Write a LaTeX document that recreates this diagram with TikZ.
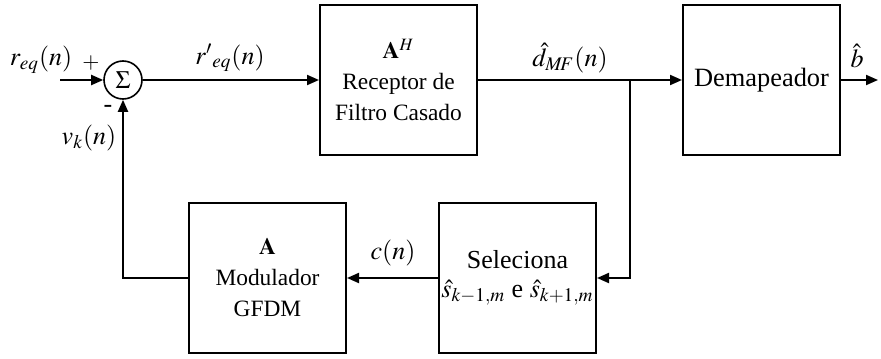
\documentclass[tikz,border=0pt]{standalone}
\usepackage{amsmath}
\usepackage{mathptmx}
\usepackage[no-math]{fontspec}
\setmainfont{Liberation Serif}
\usetikzlibrary{arrows.meta,positioning}

\tikzset{
  blockbox/.style={draw,line width=1pt,minimum width=78.5pt,minimum height=75pt,
    inner sep=0pt,align=center,font=\fontsize{11.7}{15.5}\selectfont},
  sumnode/.style={draw,circle,line width=0.8pt,minimum size=19pt,inner sep=0pt,
    font=\fontsize{12.5}{13}\selectfont},
  sig/.style={font=\fontsize{13}{15}\selectfont},
  wire/.style={line width=1pt,-{Triangle[length=6pt,width=5pt]}},
}

\begin{document}
\begin{tikzpicture}[x=0.5pt,y=-0.5pt]
  \useasboundingbox (0,0) rectangle (881,358);
  % blocks
  \node[sumnode] (sum) at (123,80) {$\Sigma$};
  \node[blockbox] (recv) at (398.5,80) {$\mathbf{A}^{H}$\\Receptor de\\Filtro Casado};
  \node[blockbox,font=\fontsize{13.2}{15.5}\selectfont] (demap) at (761.5,80) {Demapeador};
  \node[blockbox,font=\fontsize{13}{15.5}\selectfont] (sel) at (517.5,278) {Seleciona\\[-1pt]$\hat{s}_{k-1,m}$ e $\hat{s}_{k+1,m}$};
  \node[blockbox] (mod) at (267.5,278) {$\mathbf{A}$\\Modulador\\GFDM};
  \coordinate (in) at (60,80);
  \coordinate (out) at (878,80);
  \coordinate (split) at (630,80);
  % connectors
  \draw[wire] (in) -- (sum);
  \draw[wire] (sum) -- (recv);
  \draw[wire] (recv) -- (demap);
  \draw[wire] (demap) -- (out);
  \draw[wire] (split) |- (sel);
  \draw[wire] (sel) -- (mod);
  \draw[wire] (mod.west) -| (sum.south);
  % labels
  \node[sig] (lreq) at (41,60) {$r_{eq}(n)$};
  \node[font=\fontsize{11}{12}\selectfont] (lplus) at (91,63) {$+$};
  \node[font=\fontsize{13}{12}\selectfont] (lminus) at (108,109) {-};
  \node[sig] (lvk) at (89,138) {$v_{k}(n)$};
  \node[sig] (lrp) at (230,58) {$r{'}_{eq}(n)$};
  \node[sig] (ldmf) at (570,58) {$\hat{d}_{M\!F}(n)$};
  \node[sig] (lb) at (857,56) {$\hat{b}$};
  \node[sig] (lc) at (393,253) {$c(n)$};
\end{tikzpicture}
\end{document}
